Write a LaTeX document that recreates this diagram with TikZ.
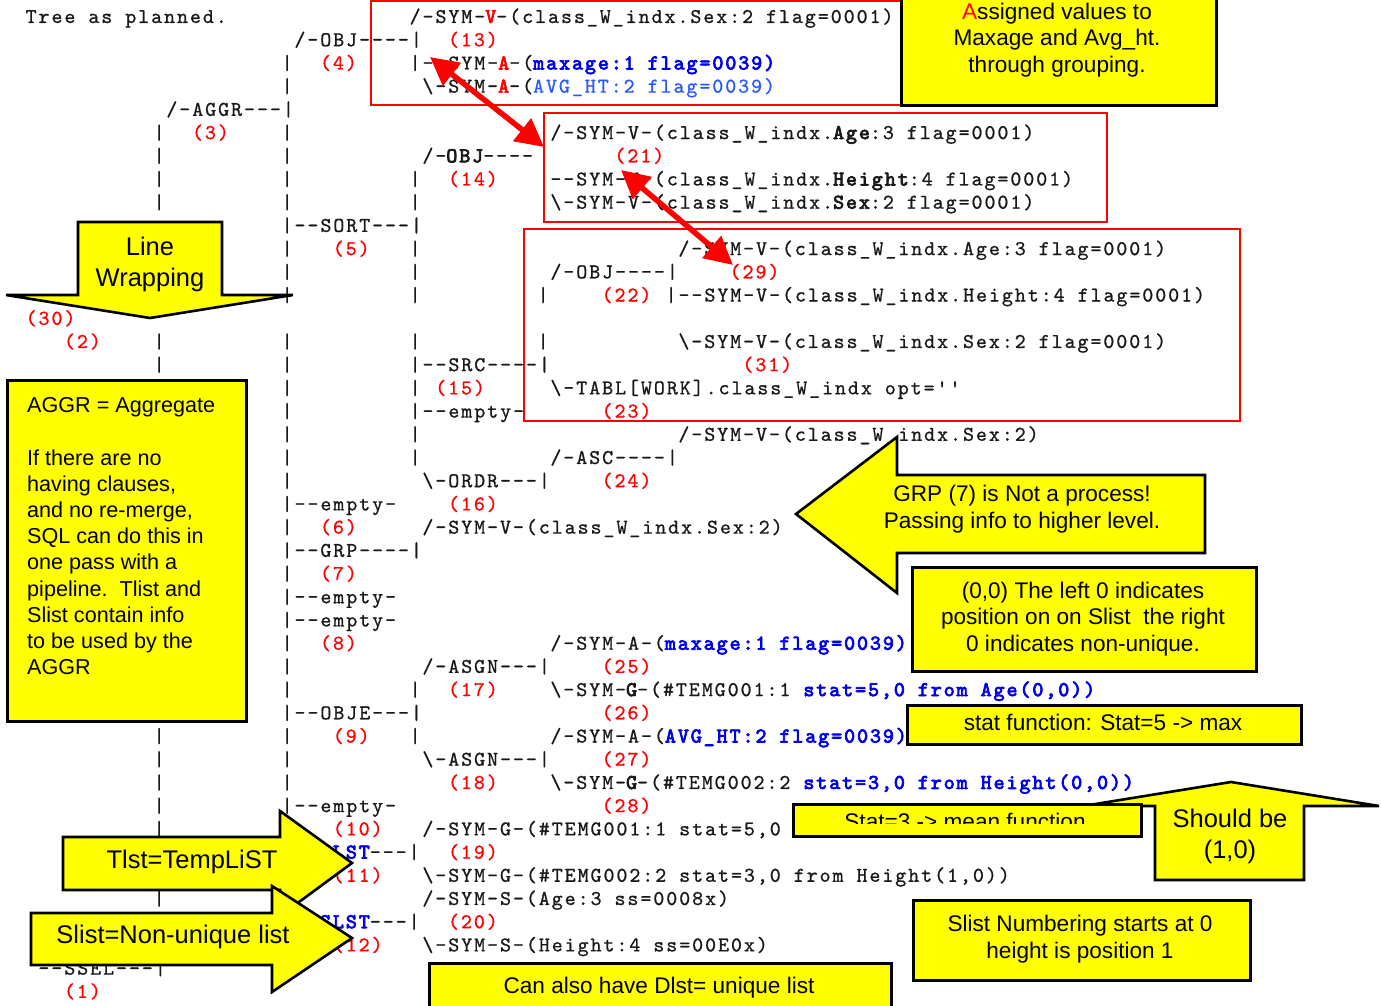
\documentclass[tikz,border=0pt]{standalone}
\usepackage{fontspec}
\usetikzlibrary{arrows.meta}
\newfontfamily\tmono{lmmono10-regular.otf}[LetterSpace=9.1,FakeBold=0.8]
\newfontfamily\tmonob{lmmono10-regular.otf}[LetterSpace=9.1,FakeBold=3.5]
\newfontfamily\ssf{Liberation Sans}
\definecolor{tblk}{RGB}{25,25,25}
\definecolor{tred}{RGB}{255,0,0}
\definecolor{tblue}{RGB}{0,0,235}
\definecolor{tlblue}{RGB}{40,90,255}
\definecolor{yel}{RGB}{255,255,0}
\newcounter{tnum}
\newcommand\trow[3]{\stepcounter{tnum}\node[tt] (t\arabic{tnum}) at ({#1*12.8},{23+#2*23.21}) {#3};}
\newcommand\tred[1]{\textcolor{tred}{#1}}
\newcommand\tbold[1]{{\tmonob #1}}
\newcommand\tredb[1]{\textcolor{tred}{\tmonob #1}}
\newcommand\tbblue[1]{\textcolor{tblue}{\tmonob #1}}
\newcommand\tlblue[1]{\textcolor{tlblue}{#1}}
\newcommand\tbsl{\textbackslash}
\tikzset{
  tt/.style={anchor=base west, inner sep=0pt, outer sep=0pt, text=tblk, font=\fontsize{21}{21}\tmono},
  ybox/.style={draw=black, line width=2.6pt, fill=yel},
  rbox/.style={draw=tred, line width=2pt},
  rarr/.style={draw=tred, line width=5.5pt, arrows={Triangle[length=28pt,width=28pt]-Triangle[length=28pt,width=28pt]}},
  ctext/.style={inner sep=0pt, font=\fontsize{22.6}{26.4}\ssf, align=center, text=black},
  btext/.style={inner sep=0pt, font=\fontsize{25.5}{31}\ssf, align=center, text=black},
}
\begin{document}
\begin{tikzpicture}[x=1pt,y=-1pt]
\useasboundingbox (0,0) rectangle (1381,1006);
\fill[white] (0,0) rectangle (1381,1006);
% ---------------- tree text ----------------
\trow{2}{0}{Tree as planned.}
\trow{32}{0}{/-SYM-\tredb{V}-(class\_W\_indx.Sex:2 flag=0001)}
\trow{23}{1}{/-OBJ----|}
\trow{35}{1}{\tred{(13)}}
\trow{22}{2}{|}
\trow{25}{2}{\tred{(4)}}
\trow{32}{2}{|--SYM-\tredb{A}-(\tbblue{maxage:1 flag=0039)}}
\trow{22}{3}{|}
\trow{33}{3}{\tbsl-SYM-\tredb{A}-(\tlblue{AVG\_HT:2 flag=0039)}}
\trow{13}{4}{/-AGGR---|}
\trow{12}{5}{|}
\trow{15}{5}{\tred{(3)}}
\trow{22}{5}{|}
\trow{43}{5}{/-SYM-V-(class\_W\_indx.\tbold{Age}:3 flag=0001)}
\trow{12}{6}{|}
\trow{22}{6}{|}
\trow{33}{6}{/-\tbold{OBJ}----}
\trow{48}{6}{\tred{(21)}}
\trow{12}{7}{|}
\trow{22}{7}{|}
\trow{32}{7}{|}
\trow{35}{7}{\tred{(14)}}
\trow{43}{7}{--SYM-V-(class\_W\_indx.\tbold{Height}:4 flag=0001)}
\trow{12}{8}{|}
\trow{22}{8}{|}
\trow{32}{8}{|}
\trow{43}{8}{\tbsl-SYM-V-(class\_W\_indx.\tbold{Sex}:2 flag=0001)}
\trow{22}{9}{|--SORT---|}
\trow{22}{10}{|}
\trow{26}{10}{\tred{(5)}}
\trow{32}{10}{|}
\trow{53}{10}{/-SYM-V-(class\_W\_indx.Age:3 flag=0001)}
\trow{22}{11}{|}
\trow{32}{11}{|}
\trow{43}{11}{/-OBJ----|}
\trow{57}{11}{\tred{(29)}}
\trow{22}{12}{|}
\trow{32}{12}{|}
\trow{42}{12}{|}
\trow{47}{12}{\tred{(22)}}
\trow{52}{12}{|--SYM-V-(class\_W\_indx.Height:4 flag=0001)}
\trow{2}{13}{\tred{(30)}}
\trow{5}{14}{\tred{(2)}}
\trow{12}{14}{|}
\trow{22}{14}{|}
\trow{32}{14}{|}
\trow{42}{14}{|}
\trow{53}{14}{\tbsl-SYM-V-(class\_W\_indx.Sex:2 flag=0001)}
\trow{12}{15}{|}
\trow{22}{15}{|}
\trow{32}{15}{|--SRC----|}
\trow{58}{15}{\tred{(31)}}
\trow{22}{16}{|}
\trow{32}{16}{|}
\trow{34}{16}{\tred{(15)}}
\trow{43}{16}{\tbsl-TABL[WORK].class\_W\_indx opt=''}
\trow{22}{17}{|}
\trow{32}{17}{|--empty-}
\trow{47}{17}{\tred{(23)}}
\trow{22}{18}{|}
\trow{32}{18}{|}
\trow{53}{18}{/-SYM-V-(class\_W\_indx.Sex:2)}
\trow{22}{19}{|}
\trow{32}{19}{|}
\trow{43}{19}{/-ASC----|}
\trow{22}{20}{|}
\trow{33}{20}{\tbsl-ORDR---|}
\trow{47}{20}{\tred{(24)}}
\trow{22}{21}{|--empty-}
\trow{35}{21}{\tred{(16)}}
\trow{22}{22}{|}
\trow{25}{22}{\tred{(6)}}
\trow{33}{22}{/-SYM-V-(class\_W\_indx.Sex:2)}
\trow{22}{23}{|--GRP----|}
\trow{22}{24}{|}
\trow{25}{24}{\tred{(7)}}
\trow{22}{25}{|--empty-}
\trow{22}{26}{|--empty-}
\trow{22}{27}{|}
\trow{25}{27}{\tred{(8)}}
\trow{43}{27}{/-SYM-A-(\tbblue{maxage:1 flag=0039)}}
\trow{22}{28}{|}
\trow{33}{28}{/-ASGN---|}
\trow{47}{28}{\tred{(25)}}
\trow{22}{29}{|}
\trow{32}{29}{|}
\trow{35}{29}{\tred{(17)}}
\trow{43}{29}{\tbsl-SYM-\tbold{G}-(\#TEMG001:1 \tbblue{stat=5,0 from Age(0,0))}}
\trow{12}{30}{|}
\trow{22}{30}{|--OBJE---|}
\trow{47}{30}{\tred{(26)}}
\trow{12}{31}{|}
\trow{22}{31}{|}
\trow{26}{31}{\tred{(9)}}
\trow{32}{31}{|}
\trow{43}{31}{/-SYM-A-(\tbblue{AVG\_HT:2 flag=0039)}}
\trow{12}{32}{|}
\trow{22}{32}{|}
\trow{33}{32}{\tbsl-ASGN---|}
\trow{47}{32}{\tred{(27)}}
\trow{12}{33}{|}
\trow{22}{33}{|}
\trow{35}{33}{\tred{(18)}}
\trow{43}{33}{\tbsl-SYM-\tbold{G}-(\#TEMG002:2 \tbblue{stat=3,0 from Height(0,0))}}
\trow{12}{34}{|}
\trow{22}{34}{|--empty-}
\trow{47}{34}{\tred{(28)}}
\trow{12}{35}{|}
\trow{22}{35}{|}
\trow{26}{35}{\tred{(10)}}
\trow{33}{35}{/-SYM-G-(\#TEMG001:1 stat=5,0}
\trow{25}{36}{\tbblue{TLST}---|}
\trow{35}{36}{\tred{(19)}}
\trow{26}{37}{\tred{(11)}}
\trow{33}{37}{\tbsl-SYM-G-(\#TEMG002:2 stat=3,0 from Height(1,0))}
\trow{12}{38}{|}
\trow{33}{38}{/-SYM-S-(Age:3 ss=0008x)}
\trow{25}{39}{\tbblue{SLST}---|}
\trow{35}{39}{\tred{(20)}}
\trow{26}{40}{\tred{(12)}}
\trow{33}{40}{\tbsl-SYM-S-(Height:4 ss=00E0x)}
\trow{3}{41}{--SSEL---|}
\trow{5}{42}{\tred{(1)}}
% ---------------- red boxes ----------------
\draw[rbox] (371,1) rectangle (937,105);
\draw[rbox] (544,113) rectangle (1107,222);
\draw[rbox] (524,229) rectangle (1240,421);
% ---------------- red arrows ----------------
\coordinate (a1s) at (430,57);
\coordinate (a1e) at (544,147);
\draw[rarr] (a1s) -- (a1e);
\coordinate (a2s) at (621,170);
\coordinate (a2e) at (733,265);
\draw[rarr] (a2s) -- (a2e);
% ---------------- callouts ----------------
\node[ybox, minimum width=315pt, minimum height=114pt, anchor=north west] (asg) at (900,-10) {};
\node[ctext] (asgt) at (1057,40) {\textcolor{tred}{A}ssigned values to\\Maxage and Avg\_ht.\\through grouping.};
\draw[ybox] (78,222) -- (222,222) -- (222,295) -- (293,295) -- (150,318) -- (6,295) -- (78,295) -- cycle;
\node[btext] (lwt) at (150,264) {Line\\Wrapping};
\node[ybox, minimum width=239pt, minimum height=341pt, anchor=north west] (agg) at (6,379) {};
\node[ctext, font=\fontsize{21.6}{26.2}\ssf, align=left, anchor=north west] (aggt) at (27,397.5) {AGGR = Aggregate\\[26.2pt]If there are no\\having clauses,\\and no re-merge,\\SQL can do this in\\one pass with a\\pipeline.\ \ Tlist and\\Slist contain info\\to be used by the\\AGGR};
\draw[ybox] (796,514) -- (897,437) -- (897,475) -- (1205,475) -- (1205,553) -- (897,553) -- (897,593) -- cycle;
\node[ctext] (grpt) at (1022,509) {GRP (7) is Not a process!\\Passing info to higher level.};
\node[ybox, minimum width=344pt, minimum height=104pt, anchor=north west] (zz) at (911,566) {};
\node[ctext] (zzt) at (1083,619) {(0,0) The left 0 indicates\\position on on Slist\ \ the right\\0 indicates non-unique.};
\node[ybox, minimum width=394pt, minimum height=39pt, anchor=north west] (sf) at (906,704) {};
\node[ctext] (sft) at (1103,722) {stat function: Stat=5 -> max};
\draw[ybox] (1231,782) -- (1379,806) -- (1304,806) -- (1304,880) -- (1155,880) -- (1155,806) -- (1083,806) -- cycle;
\node[btext] (sbt) at (1230,836) {Should be\\(1,0)};
\node[ybox, minimum width=348pt, minimum height=32pt, anchor=north west] (s3) at (792,803) {};
\begin{scope}
\clip (792,803) rectangle (1140,823.5);
\node[ctext, anchor=base] (s3t) at (965,829) {Stat=3 -> mean function};
\end{scope}
\draw[ybox] (63,837) -- (280,837) -- (280,811) -- (352,863) -- (280,916) -- (280,890) -- (63,890) -- cycle;
\node[btext] (tlt) at (192,862) {Tlst=TempLiST};
\draw[ybox] (31,913) -- (272,913) -- (272,886) -- (352,938) -- (272,992) -- (272,965) -- (31,965) -- cycle;
\node[btext] (slt) at (173,937) {Slist=Non-unique list};
\node[ybox, minimum width=337pt, minimum height=80pt, anchor=north west] (sn) at (912,899) {};
\node[ctext] (snt) at (1080,939) {Slist Numbering starts at 0\\height is position 1};
\node[ybox, minimum width=462pt, minimum height=60pt, anchor=north west] (ca) at (428,962) {};
\node[ctext] (cat) at (659,988) {Can also have Dlst= unique list};
\end{tikzpicture}
\end{document}
